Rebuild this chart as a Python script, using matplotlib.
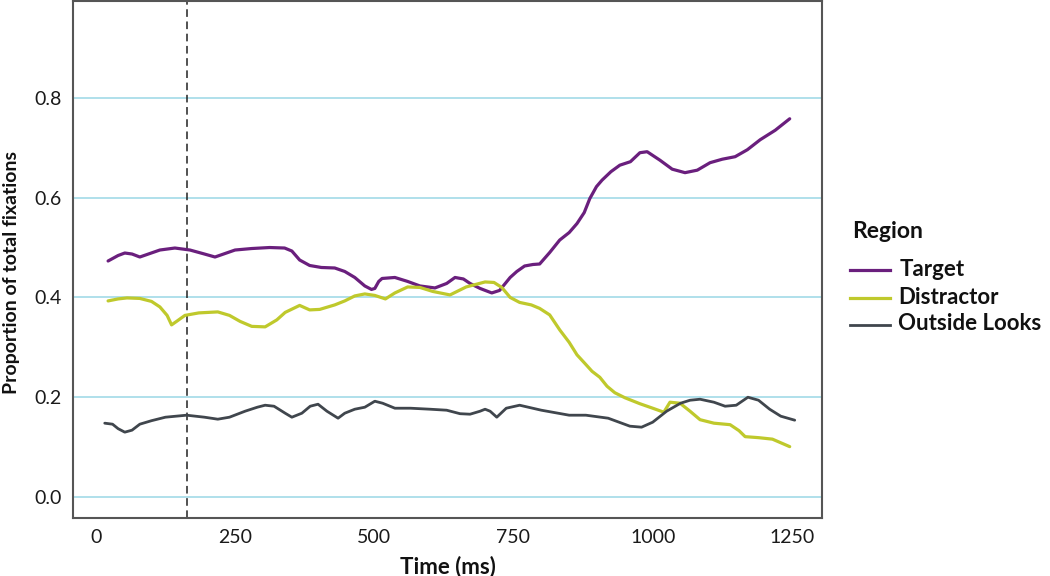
import matplotlib
matplotlib.use("Agg")
import matplotlib.pyplot as plt
from matplotlib.lines import Line2D

# ---- data ----
target_t = [22, 40, 52, 65, 79, 97, 115, 142, 169, 195, 214, 232, 250, 280, 312, 339, 352,
            366, 384, 405, 429, 447, 465, 483, 495, 501, 508, 514, 537, 560, 582, 609, 630,
            645, 660, 672, 690, 711, 725, 744, 756, 770, 785, 797, 815, 833, 850, 864, 877,
            887, 899, 909, 925, 941, 960, 977, 990, 1013, 1035, 1058, 1080, 1103, 1125, 1148,
            1170, 1193, 1220, 1246]
target_v = [0.473, 0.484, 0.489, 0.487, 0.481, 0.488, 0.495, 0.499, 0.495, 0.487, 0.481, 0.488,
            0.495, 0.498, 0.500, 0.499, 0.493, 0.475, 0.464, 0.460, 0.459, 0.452, 0.440, 0.423,
            0.416, 0.418, 0.432, 0.438, 0.440, 0.432, 0.423, 0.419, 0.428, 0.440, 0.437, 0.428,
            0.418, 0.409, 0.414, 0.440, 0.452, 0.463, 0.466, 0.467, 0.490, 0.515, 0.530, 0.548,
            0.570, 0.598, 0.622, 0.635, 0.652, 0.665, 0.672, 0.690, 0.692, 0.675, 0.657, 0.650,
            0.655, 0.670, 0.677, 0.682, 0.696, 0.716, 0.735, 0.758]

distr_t = [22, 40, 56, 79, 100, 115, 128, 136, 145, 160, 185, 219, 240, 259, 280, 304, 325,
           340, 366, 384, 402, 429, 447, 465, 483, 501, 520, 537, 560, 582, 605, 636, 665,
           699, 715, 729, 744, 761, 782, 797, 815, 833, 850, 864, 878, 891, 905, 918, 932,
           950, 977, 1000, 1020, 1031, 1049, 1067, 1085, 1110, 1139, 1155, 1166, 1190, 1215,
           1246]
distr_v = [0.393, 0.397, 0.399, 0.398, 0.392, 0.381, 0.364, 0.345, 0.352, 0.364, 0.369, 0.371,
           0.364, 0.352, 0.342, 0.341, 0.355, 0.370, 0.384, 0.375, 0.376, 0.385, 0.393, 0.403,
           0.407, 0.404, 0.397, 0.409, 0.421, 0.420, 0.412, 0.405, 0.421, 0.431, 0.430, 0.420,
           0.400, 0.390, 0.385, 0.378, 0.365, 0.335, 0.310, 0.285, 0.268, 0.252, 0.240, 0.222,
           0.209, 0.199, 0.187, 0.178, 0.170, 0.190, 0.188, 0.172, 0.155, 0.148, 0.145, 0.133,
           0.121, 0.119, 0.116, 0.101]

out_t = [16, 30, 40, 52, 65, 79, 100, 125, 163, 195, 219, 240, 268, 290, 304, 320, 340, 352,
         370, 385, 399, 415, 435, 447, 465, 483, 501, 515, 537, 565, 600, 630, 654, 672, 690,
         699, 708, 720, 737, 761, 800, 850, 880, 920, 959, 980, 1000, 1025, 1050, 1067, 1085,
         1110, 1130, 1150, 1171, 1190, 1210, 1230, 1255]
out_v = [0.148, 0.146, 0.137, 0.130, 0.134, 0.146, 0.153, 0.160, 0.164, 0.160, 0.156, 0.160,
         0.172, 0.180, 0.184, 0.182, 0.168, 0.160, 0.168, 0.182, 0.186, 0.172, 0.158, 0.168,
         0.176, 0.180, 0.192, 0.188, 0.178, 0.178, 0.176, 0.174, 0.167, 0.166, 0.172, 0.176,
         0.172, 0.160, 0.178, 0.184, 0.174, 0.164, 0.164, 0.158, 0.142, 0.140, 0.150, 0.172,
         0.188, 0.194, 0.196, 0.190, 0.182, 0.184, 0.200, 0.194, 0.176, 0.162, 0.154]

onset_ms = 163
series_names = ["Target", "Distractor", "Outside Looks"]
legend_title = "Region"
x_ticks = [0, 250, 500, 750, 1000, 1250]
y_ticks = [0.0, 0.2, 0.4, 0.6, 0.8]

# ---- style ----
colors = ["#6a1f7d", "#bfc92c", "#40464d"]
widths = [2.3, 2.3, 2.0]
plt.rcParams['font.family'] = ['Lato', 'DejaVu Sans']

W, H = 1050, 576
fig = plt.figure(figsize=(W / 100, H / 100), dpi=100)
ax = fig.add_axes([73/W, 1 - 518/H, (822-73)/W, (518-1)/H])

for yt in y_ticks:
    ax.axhline(yt, color="#a9dde9", lw=1.3, zorder=0)

ax.axvline(onset_ms, color="#222222", lw=1.1, ls=(0, (5, 3)), zorder=1)

data = [(target_t, target_v), (distr_t, distr_v), (out_t, out_v)]
for (t, v), c, w, name in zip(data, colors, widths, series_names):
    ax.plot(t, v, color=c, lw=w, solid_joinstyle='round', solid_capstyle='round',
            label=name, zorder=3)

ax.set_xlim(-41, 1304)
ax.set_ylim(-0.042, 0.994)
ax.set_xticks(x_ticks)
ax.set_xticklabels([str(x) for x in x_ticks])
ax.set_yticks(y_ticks)
ax.set_yticklabels([f"{y:.1f}" for y in y_ticks])
ax.tick_params(length=0, labelsize=14, colors="#1a1a1a")
ax.tick_params(axis='y', pad=8)
ax.tick_params(axis='x', pad=8)
for s in ax.spines.values():
    s.set_color("#555555")
    s.set_linewidth(1.5)

ax.set_xlabel("Time (ms)", fontsize=16, fontweight='bold', labelpad=7, color="#111111")
ax.set_ylabel("Proportion of total fixations", fontsize=14, fontweight='bold',
              color="#111111")
ax.yaxis.set_label_coords(-0.071, 0.475)

# ---- legend (drawn in figure coordinates) ----
fig.text(852/W, 1 - 232/H, legend_title, fontsize=16.5, fontweight='bold',
         ha='left', va='center', color="#111111")
key_y = [270, 298, 325]
text_x = [900, 898, 898]
for c, w, name, ky, tx in zip(colors, widths, series_names, key_y, text_x):
    fig.add_artist(Line2D([850/W, 890/W], [1 - ky/H, 1 - ky/H], color=c, lw=w,
                          transform=fig.transFigure))
    fig.text(tx/W, 1 - (ky - 1)/H, name, fontsize=16, fontweight='bold',
             ha='left', va='center', color="#111111")

fig.savefig("out.png", dpi=100)
